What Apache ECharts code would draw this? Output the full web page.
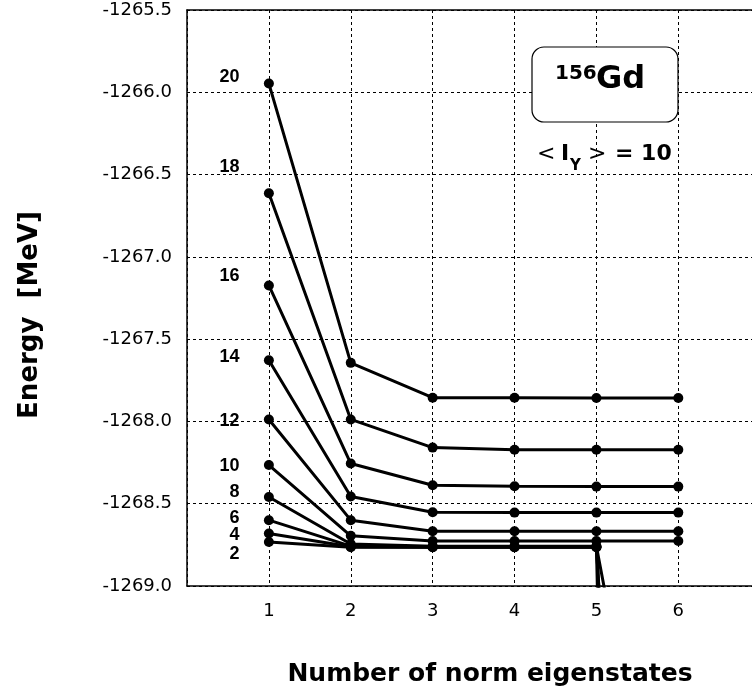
<!DOCTYPE html>
<html><head><meta charset="utf-8">
<script src="https://cdn.jsdelivr.net/npm/echarts@6/dist/echarts.min.js"></script>
<style>html,body{margin:0;padding:0;background:#fff}#c{width:752px;height:696px}</style>
</head><body><div id="c"></div>
<script>
// x categories: number of norm eigenstates
const nStates = [1, 2, 3, 4, 5, 6];
// Energy values (MeV) for each <I_Y> line label
const line20 = [-1265.947, -1267.644, -1267.856, -1267.856, -1267.858, -1267.858];
const line18 = [-1266.614, -1267.988, -1268.159, -1268.172, -1268.172, -1268.172];
const line16 = [-1267.174, -1268.256, -1268.388, -1268.394, -1268.396, -1268.396];
const line14 = [-1267.628, -1268.456, -1268.552, -1268.554, -1268.554, -1268.554];
const line12 = [-1267.988, -1268.600, -1268.667, -1268.667, -1268.667, -1268.667];
const line10 = [-1268.265, -1268.695, -1268.727, -1268.727, -1268.727, -1268.727];
const line8  = [-1268.459, -1268.745, -1268.758, -1268.758, -1268.758, -1271.4];
const line6  = [-1268.600, -1268.758, -1268.761, -1268.761, -1268.761, -1277.0];
const line4  = [-1268.681, -1268.761, -1268.764, -1268.764, -1268.764, -1277.0];
const line2  = [-1268.733, -1268.764, -1268.764, -1268.764, -1268.764, -1290.0];
const lines = [line20, line18, line16, line14, line12, line10, line8, line6, line4, line2];
// labels next to the first points
const labelNames = ['20', '18', '16', '14', '12', '10', '8', '6', '4', '2'];
const labelEnergy = [-1265.909, -1266.455, -1267.115, -1267.606, -1268.0, -1268.273, -1268.430, -1268.588, -1268.691, -1268.806];
const labelX = 0.646;
const yTicks = ['-1269.0', '-1268.5', '-1268.0', '-1267.5', '-1267.0', '-1266.5', '-1266.0', '-1265.5'];

const chart = echarts.init(document.getElementById('c'), null, {renderer: 'canvas'});
const FONT = 'DejaVu Sans';
const series = lines.map((vals, i) => ({
  type: 'line',
  name: labelNames[i],
  data: nStates.map((x, j) => [x, vals[j]]),
  symbol: 'circle',
  symbolSize: 10,
  lineStyle: {color: '#000', width: 3},
  itemStyle: {color: '#000'},
  clip: true,
  animation: false,
  z: 5
}));
series.push({
  type: 'scatter',
  data: labelNames.map((n, i) => ({name: n, value: [labelX, labelEnergy[i]]})),
  symbolSize: 1,
  itemStyle: {color: 'rgba(0,0,0,0)'},
  label: {show: true, position: 'left', distance: 0, formatter: p => p.name,
          color: '#000', textBorderWidth: 0, opacity: 1,
          fontFamily: 'Liberation Sans', fontWeight: 'bold', fontSize: 18},
  animation: false,
  silent: true,
  z: 6
});

chart.setOption({
  backgroundColor: '#fff',
  animation: false,
  grid: {left: 187, right: 0, top: 10, bottom: 110, show: false},
  xAxis: [{
    type: 'value', min: 0, max: 6.9, interval: 1,
    axisLine: {show: true, lineStyle: {color: '#000', width: 1.5}},
    axisTick: {show: false},
    axisLabel: {margin: 16, color: '#000', fontFamily: FONT, fontSize: 18, showMaxLabel: false,
      formatter: v => (v >= 1 && v <= 6) ? String(v) : ''},
    splitLine: {show: true, lineStyle: {color: '#000', type: [3, 3], width: 1}}
  }, {
    type: 'value', min: 0, max: 6.9, position: 'top',
    axisLine: {show: true, onZero: false, lineStyle: {color: '#000', width: 1.5}},
    axisTick: {show: false}, axisLabel: {show: false}, splitLine: {show: false}
  }],
  yAxis: {
    type: 'value', min: -1269, max: -1265.5, interval: 0.5,
    axisLine: {show: true, lineStyle: {color: '#000', width: 1.5}},
    axisTick: {show: false},
    axisLabel: {margin: 15, color: '#000', fontFamily: FONT, fontSize: 18,
      formatter: v => yTicks.find(t => Math.abs(parseFloat(t) - v) < 1e-6) || v.toFixed(1)},
    splitLine: {show: true, lineStyle: {color: '#000', type: [3, 3], width: 1}}
  },
  graphic: [
    {type: 'text', x: 30, y: 315, rotation: Math.PI / 2,
     style: {text: 'Energy  [MeV]', fontFamily: FONT, fontWeight: 'bold', fontSize: 26, fill: '#000', align: 'center', verticalAlign: 'middle'}},
    {type: 'text', x: 490, y: 674,
     style: {text: 'Number of norm eigenstates', fontFamily: FONT, fontWeight: 'bold', fontSize: 25, fill: '#000', align: 'center', verticalAlign: 'middle'}},
    {type: 'rect', shape: {x: 532, y: 47, width: 146, height: 75, r: 12}, z: 10,
     style: {fill: '#fff', stroke: '#000', lineWidth: 1.2}},
    {type: 'text', x: 555, y: 74, z: 11,
     style: {text: '156', fontFamily: FONT, fontWeight: 'bold', fontSize: 20, fill: '#000', align: 'left', verticalAlign: 'middle'}},
    {type: 'text', x: 596, y: 80, z: 11,
     style: {text: 'Gd', fontFamily: FONT, fontWeight: 'bold', fontSize: 32, fill: '#000', align: 'left', verticalAlign: 'middle'}},
    {type: 'text', x: 537, y: 154, z: 11,
     style: {text: '<', fontFamily: FONT, fontWeight: 'normal', fontSize: 22, fill: '#000', align: 'left', verticalAlign: 'middle'}},
    {type: 'text', x: 561, y: 154, z: 11,
     style: {text: 'I', fontFamily: FONT, fontWeight: 'bold', fontSize: 22, fill: '#000', align: 'left', verticalAlign: 'middle'}},
    {type: 'text', x: 570, y: 166, z: 11,
     style: {text: 'Y', fontFamily: FONT, fontWeight: 'bold', fontSize: 15, fill: '#000', align: 'left', verticalAlign: 'middle'}},
    {type: 'text', x: 588, y: 154, z: 11,
     style: {text: '>', fontFamily: FONT, fontWeight: 'normal', fontSize: 22, fill: '#000', align: 'left', verticalAlign: 'middle'}},
    {type: 'text', x: 615, y: 154, z: 11,
     style: {text: '= 10', fontFamily: FONT, fontWeight: 'bold', fontSize: 22, fill: '#000', align: 'left', verticalAlign: 'middle'}}
  ],
  series: series
});
</script></body></html>
